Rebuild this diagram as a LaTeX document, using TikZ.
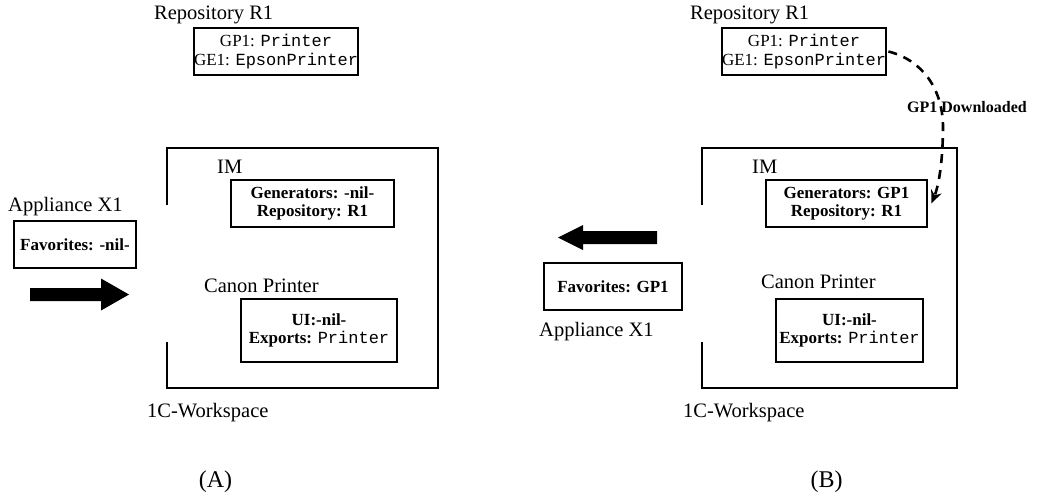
\documentclass[tikz,border=0pt]{standalone}
\usepackage{fontspec}
\setmainfont{Liberation Serif}
\newfontfamily\monof{Liberation Mono}
\usetikzlibrary{arrows.meta}
\newcommand\lblfont{\fontsize{20.5}{24}\selectfont}
\newcommand\bxfont{\fontsize{17}{18}\selectfont\bfseries}
\newcommand\rpfont{\fontsize{17}{19}\selectfont}
\newcommand\mono[1]{{\monof\mdseries #1}}
\tikzset{
  box/.style={draw, line width=2.8pt, inner sep=0pt, align=center, font=\bxfont},
  lbl/.style={anchor=base west, inner sep=0pt, font=\lblfont},
  wsline/.style={line width=2.8pt, line join=miter},
  bigarrow/.style={fill=black},
  dl/.style={dash pattern=on 9pt off 7pt, line width=2.6pt, -{Stealth[length=13pt,width=11pt]}}
}
\begin{document}
\begin{tikzpicture}[x=1pt,y=-1pt]
\useasboundingbox (0,0) rectangle (1037,496);

% ---------------- Panel A ----------------
\node[lbl] (repoAl) at (154,19.5) {Repository R1};
\node[box, minimum width=162pt, minimum height=47pt, font=\rpfont] (repoA) at (276,51.5)
  {GP1: \mono{Printer}\\GE1: \mono{EpsonPrinter}};

\draw[wsline] (167,205) -- (167,148) -- (438,148) -- (438,388) -- (167,388) -- (167,342);
\node[lbl] (imA) at (217,173) {IM};
\node[box, minimum width=163pt, minimum height=47pt] (genA) at (312.5,203.5)
  {Generators: -nil-\\Repository: R1};

\node[lbl] (appA) at (8,211.5) {Appliance X1};
\node[box, minimum width=122pt, minimum height=47pt] (favA) at (75,244.5) {Favorites: -nil-};

\fill[bigarrow] (30,288) -- (101,288) -- (101,278.5) -- (129,294.5) -- (101,310.5) -- (101,301) -- (30,301) -- cycle;

\node[lbl] (canA) at (204,292) {Canon Printer};
\node[box, minimum width=156pt, minimum height=63pt] (uiA) at (319,330.5)
  {UI:-nil-\\Exports: \mono{Printer}};

\node[lbl] (wsA) at (147,417) {1C-Workspace};
\node[anchor=base, inner sep=0pt, font=\fontsize{24}{28}\selectfont] (capA) at (215.5,487) {(A)};

% ---------------- Panel B ----------------
\node[lbl] (repoBl) at (690,19.5) {Repository R1};
\node[box, minimum width=164pt, minimum height=47pt, font=\rpfont] (repoB) at (804,51.5)
  {GP1: \mono{Printer}\\GE1: \mono{EpsonPrinter}};

\draw[wsline] (702,205) -- (702,148) -- (957,148) -- (957,388) -- (702,388) -- (702,342);
\node[lbl] (imB) at (752,173) {IM};
\node[box, minimum width=161pt, minimum height=47pt] (genB) at (846.5,203.5)
  {Generators: GP1\\Repository: R1};

\node[anchor=base west, inner sep=0pt, font=\fontsize{16}{18}\selectfont\bfseries] (dlB) at (907,112) {GP1 Downloaded};
\draw[dl] ([xshift=1pt]repoB.east) .. controls (922,60) and (942,88) .. (943,125)
  .. controls (943,160) and (939,185) .. ([xshift=3pt]genB.east);

\fill[bigarrow] (657,231) -- (583,231) -- (583,225) -- (558,237.5) -- (583,250) -- (583,244) -- (657,244) -- cycle;

\node[box, minimum width=138pt, minimum height=47pt] (favB) at (613,286.5) {Favorites: GP1};
\node[lbl] (appB) at (539,336) {Appliance X1};

\node[lbl] (canB) at (761,288) {Canon Printer};
\node[box, minimum width=147pt, minimum height=63pt] (uiB) at (849.5,330.5)
  {UI:-nil-\\Exports: \mono{Printer}};

\node[lbl] (wsB) at (683,417) {1C-Workspace};
\node[anchor=base, inner sep=0pt, font=\fontsize{24}{28}\selectfont] (capB) at (826.5,487) {(B)};
\end{tikzpicture}
\end{document}
